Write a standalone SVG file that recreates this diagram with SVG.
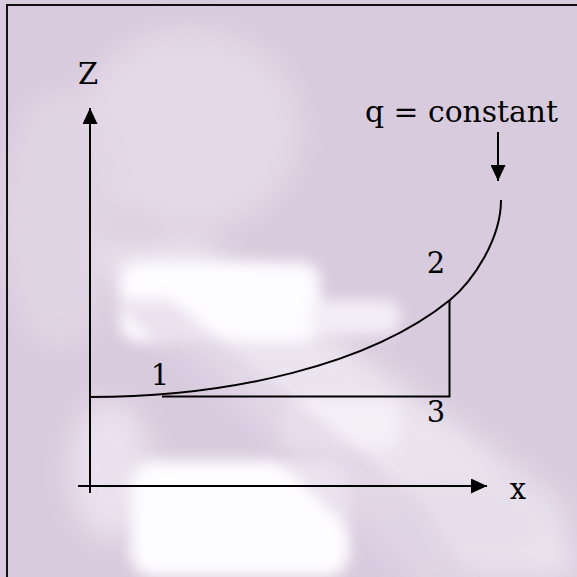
<svg xmlns="http://www.w3.org/2000/svg" width="577" height="577" viewBox="0 0 577 577">
  <style>
    .ln { fill: none; stroke: #000; stroke-width: 2; }
    .lbl { font-family: "DejaVu Serif", "Liberation Serif", serif; font-size: 29px; fill: #000; }
  </style>
  <defs>
    <filter id="blur" x="-30%" y="-30%" width="160%" height="160%">
      <feGaussianBlur stdDeviation="14"/>
    </filter>
    <filter id="blur2" x="-30%" y="-30%" width="160%" height="160%">
      <feGaussianBlur stdDeviation="7"/>
    </filter>
    <marker id="ah" viewBox="0 0 16 15" refX="16" refY="7.5" markerWidth="16" markerHeight="15" markerUnits="userSpaceOnUse" orient="auto">
      <path d="M0,0 L16,7.5 L0,15 Z" fill="#000"/>
    </marker>
  </defs>

  <g id="background">
    <rect x="0" y="0" width="577" height="577" fill="#d9cbde"/>
    <g filter="url(#blur)" opacity="0.85">
      <ellipse cx="190" cy="130" rx="110" ry="100" fill="#e6dcea"/>
      <ellipse cx="60" cy="220" rx="55" ry="130" fill="#e2d7e6"/>
      <polygon points="90,250 200,240 560,500 577,577 420,577" fill="#efe9f2"/>
      <ellipse cx="470" cy="520" rx="90" ry="50" fill="#e9e3ee"/>
      <ellipse cx="110" cy="470" rx="40" ry="70" fill="#ede6f1"/>
    </g>
    <g filter="url(#blur2)">
      <rect x="120" y="262" width="200" height="80" rx="20" fill="#fdfcfe"/>
      <rect x="310" y="300" width="90" height="35" rx="15" fill="#f3eef6"/>
      <rect x="130" y="460" width="220" height="117" rx="25" fill="#fdfcfe"/>
      <rect x="280" y="400" width="120" height="50" rx="20" fill="#f4f0f6"/>
    </g>
    <g filter="url(#blur2)" opacity="0.55">
      <path d="M110,300 L170,300 L420,500 L470,577 L400,577 Z" fill="#dccde2"/>
    </g>
    <path d="M7,577 L7,5 L577,5" fill="none" stroke="#111" stroke-width="2"/>
  </g>

  <g id="connectors">
    <path id="z-axis" class="ln" d="M90,493 L90,108" marker-end="url(#ah)"/>
    <path id="x-axis" class="ln" d="M78,486 L487,486" marker-end="url(#ah)"/>
    <path id="q-arrow" class="ln" d="M498,132 L498,181" marker-end="url(#ah)"/>
    <path id="curve" class="ln" d="M90,397 C230,397 370,365 450,300 C472,282 501,240 501,200"/>
    <path id="legs" class="ln" d="M162,396.5 L449.5,396.5 L449.5,300"/>
  </g>

  <g id="labels">
    <text class="lbl" x="88" y="84" text-anchor="middle">Z</text>
    <text class="lbl" x="518" y="499" text-anchor="middle">x</text>
    <text class="lbl" x="365" y="122" textLength="193" lengthAdjust="spacingAndGlyphs">q = constant</text>
    <text class="lbl" x="160" y="385" text-anchor="middle">1</text>
    <text class="lbl" x="436" y="273" text-anchor="middle">2</text>
    <text class="lbl" x="436" y="422" text-anchor="middle">3</text>
  </g>
</svg>
